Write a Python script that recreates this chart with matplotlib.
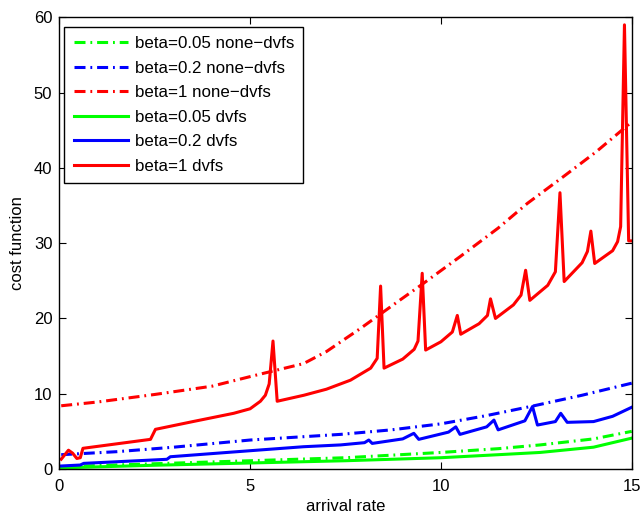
import matplotlib
matplotlib.use("Agg")
import matplotlib.pyplot as plt

# ---------------- data ----------------
x_red_none = [0.05, 1.0, 2.5, 4.0, 5.1, 6.4, 7.0, 7.9, 8.86, 9.5, 10.5, 11.5, 12.27, 13.2, 14.06, 15.0]
y_red_none = [8.4, 8.9, 9.9, 11.0, 12.4, 14.0, 15.6, 18.7, 22.2, 24.5, 28.2, 32.0, 35.3, 38.8, 42.1, 46.1]

x_blue_none = [0.05, 1.5, 3.0, 5.0, 7.37, 8.7, 10.0, 11.2, 12.44, 13.7, 15.0]
y_blue_none = [1.9, 2.3, 2.9, 3.85, 4.6, 5.2, 6.0, 7.1, 8.4, 9.8, 11.4]

x_green_none = [0.05, 2.5, 5.0, 7.5, 10.0, 11.5, 12.6, 14.0, 15.0]
y_green_none = [0.3, 0.7, 1.1, 1.5, 2.2, 2.7, 3.2, 4.0, 5.0]

x_green_dvfs = [0.05, 2.5, 5.0, 7.5, 10.0, 11.5, 12.6, 14.0, 15.0]
y_green_dvfs = [0.15, 0.5, 0.8, 1.1, 1.5, 1.9, 2.2, 2.9, 4.1]

x_blue_dvfs = [0.05, 0.55, 0.64, 2.82, 2.91, 5.0, 6.4, 7.37, 8.0, 8.11, 8.2, 9.0, 9.29, 9.42,
               10.2, 10.39, 10.5, 11.2, 11.39, 11.5, 12.2, 12.4, 12.53, 13.0, 13.14, 13.31,
               14.0, 14.5, 15.0]
y_blue_dvfs = [0.4, 0.53, 0.75, 1.29, 1.63, 2.43, 2.96, 3.2, 3.5, 3.85, 3.4, 4.0, 4.74, 3.94,
               4.9, 5.6, 4.6, 5.6, 6.5, 5.2, 6.4, 8.3, 5.84, 6.3, 7.4, 6.2,
               6.3, 7.0, 8.2]

x_red_dvfs = [0.05, 0.24, 0.35, 0.46, 0.55, 0.62, 2.39, 2.52, 3.5, 4.57, 5.0, 5.27, 5.4, 5.5,
              5.6, 5.71, 6.41, 7.0, 7.63, 8.16, 8.33, 8.42, 8.51, 9.0, 9.3, 9.4, 9.51, 9.6,
              10.0, 10.3, 10.43, 10.52, 11.0, 11.22, 11.3, 11.43, 11.9, 12.1, 12.22, 12.33,
              12.8, 13.0, 13.12, 13.23, 13.7, 13.84, 13.93, 14.03, 14.5, 14.63, 14.71, 14.81,
              14.92, 15.0]
y_red_dvfs = [1.3, 2.5, 2.1, 1.4, 1.5, 2.75, 3.94, 5.27, 6.3, 7.4, 8.0, 9.0, 9.8, 11.3,
              17.0, 9.0, 9.8, 10.6, 11.8, 13.4, 14.7, 24.3, 13.4, 14.6, 15.9, 17.0, 26.0, 15.8,
              16.9, 18.2, 20.4, 17.9, 19.3, 20.4, 22.6, 20.0, 21.8, 23.1, 26.4, 22.4,
              24.4, 26.2, 36.7, 24.9, 27.4, 28.9, 31.6, 27.3, 29.0, 30.2, 32.2, 59.0,
              30.3, 30.3]

xticks = [0, 5, 10, 15]
yticks = [0, 10, 20, 30, 40, 50, 60]

# ---------------- plot ----------------
plt.rcParams['font.family'] = ['Liberation Sans', 'DejaVu Sans']
fig = plt.figure(figsize=(6.41, 5.15), dpi=100)
ax = fig.add_axes([0.0925, 0.0893, 0.8930, 0.8771])

dd = (0, (3.6, 1.6, 0.6, 1.6))
lw = 2.2
green = (0, 1, 0)
ax.plot(x_green_none, y_green_none, color=green, lw=lw, ls=dd, dash_capstyle='butt', label='beta=0.05 none\u2212dvfs')
ax.plot(x_blue_none, y_blue_none, color='b', lw=lw, ls=dd, dash_capstyle='butt', label='beta=0.2 none\u2212dvfs')
ax.plot(x_red_none, y_red_none, color='r', lw=lw, ls=dd, dash_capstyle='butt', label='beta=1 none\u2212dvfs')
ax.plot(x_green_dvfs, y_green_dvfs, color=green, lw=lw, label='beta=0.05 dvfs')
ax.plot(x_blue_dvfs, y_blue_dvfs, color='b', lw=lw, label='beta=0.2 dvfs')
ax.plot(x_red_dvfs, y_red_dvfs, color='r', lw=lw, label='beta=1 dvfs')

ax.set_xlim(0, 15)
ax.set_ylim(0, 60)
ax.set_xticks(xticks)
ax.set_yticks(yticks)
ax.tick_params(direction='in', length=5, top=True, right=True, labelsize=12, width=0.8)
ax.tick_params(axis='x', pad=7.5)
ax.tick_params(axis='y', pad=5)
for s in ax.spines.values():
    s.set_linewidth(1.0)
ax.set_xlabel('arrival rate', fontsize=12, labelpad=3)
ax.set_ylabel('cost function', fontsize=12, labelpad=6)

leg = ax.legend(loc='upper left', bbox_to_anchor=(0.0087, 0.979), borderaxespad=0,
                prop={'size': 12.2}, fancybox=False, framealpha=1, edgecolor='black',
                handlelength=3.2, handletextpad=0.4, labelspacing=0.56, borderpad=0.55)
leg.get_frame().set_linewidth(1.0)

fig.savefig('out.png', dpi=100)
